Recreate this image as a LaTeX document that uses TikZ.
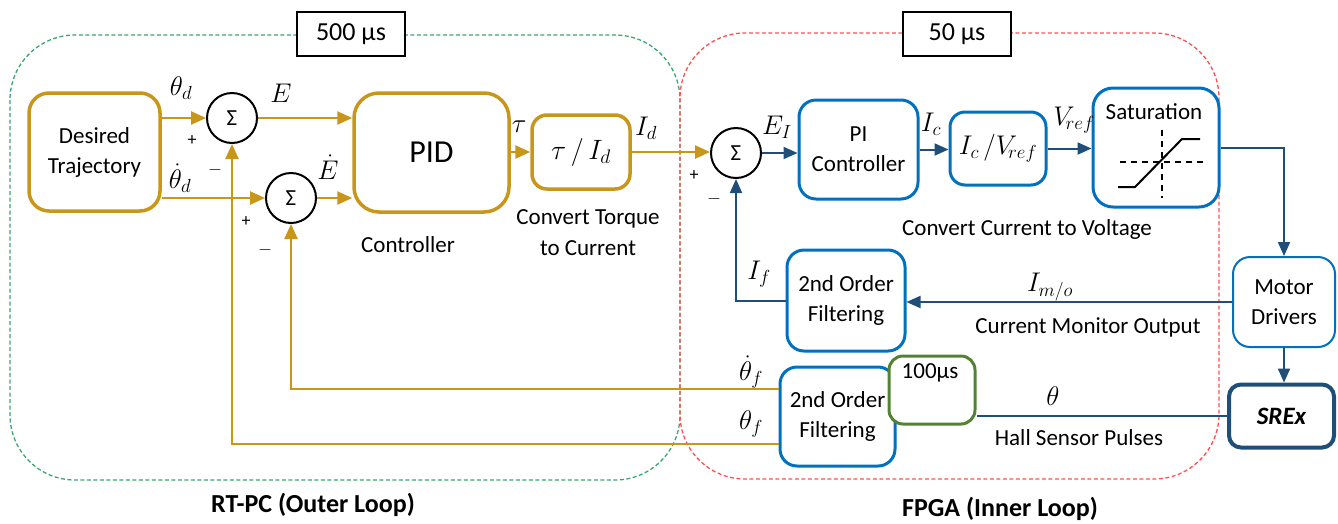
\RequirePackage{fix-cm}
\documentclass[tikz,border=0pt]{standalone}
\usepackage{fontspec}
\setmainfont{Carlito}
\usetikzlibrary{arrows.meta,calc}
\definecolor{gold}{RGB}{200,150,25}
\definecolor{boxblue}{RGB}{0,112,192}
\definecolor{arrowblue}{RGB}{31,78,121}
\definecolor{boxgreen}{RGB}{84,130,53}
\definecolor{dashgreen}{RGB}{60,165,115}
\definecolor{dashred}{RGB}{255,80,80}
\begin{document}
\begin{tikzpicture}[x=1pt,y=-1pt,
  font=\fontsize{23}{28}\selectfont,
  gbox/.style={draw=gold,line width=3.5pt,rounded corners=20pt,align=center,inner sep=0pt},
  bbox/.style={draw=boxblue,line width=3pt,rounded corners=17pt,align=center,inner sep=0pt},
  sumnode/.style={circle,draw=black,line width=2pt,minimum size=50pt,inner sep=0pt},
  garrow/.style={draw=gold,line width=2.5pt,-{Triangle[length=15pt,width=13pt]}},
  barrow/.style={draw=arrowblue,line width=2pt,-{Triangle[length=14pt,width=12pt]}},
  bline/.style={draw=arrowblue,line width=2pt},
  lbl/.style={inner sep=0pt},
  mlbl/.style={inner sep=0pt,font=\fontsize{27}{30}\selectfont},
  sgn/.style={inner sep=0pt,font=\fontsize{18}{20}\selectfont},
  region/.style={line width=1.3pt,dash pattern=on 4pt off 2.5pt,rounded corners=65pt},
  timebox/.style={draw=black,line width=2pt,fill=white,minimum width=108pt,minimum height=44pt,inner sep=0pt,font=\fontsize{26}{30}\selectfont},
]
\useasboundingbox (0,0) rectangle (1338,523);

% computing domains
\draw[region,draw=dashgreen] (10,35) rectangle (680,480);
\draw[region,draw=dashred] (680,33) rectangle (1219,479);
\node[timebox] (t500) at (351,34) {500 µs};
\node[timebox] (t50) at (957,34) {50 µs};

% outer loop blocks
\node[gbox,minimum width=131pt,minimum height=118pt] (dt) at (94.5,152) {Desired\\[2pt]Trajectory};
\node[sumnode] (s1) at (232,118) {Σ};
\node[sumnode] (s2) at (291,198) {Σ};
\node[gbox,rounded corners=25pt,minimum width=155pt,minimum height=119pt,font=\fontsize{32}{36}\selectfont] (pid) at (431.5,152.5) {PID};
\node[gbox,rounded corners=15pt,minimum width=98pt,minimum height=74pt,font=\fontsize{28}{32}\selectfont] (tau) at (581,152) {$\tau\,/\,I_d$};

% inner loop blocks
\node[sumnode] (s3) at (736,153) {Σ};
\node[bbox,minimum width=119pt,minimum height=99pt] (pi) at (858.5,149.5) {PI\\[2pt]Controller};
\node[bbox,rounded corners=15pt,minimum width=96pt,minimum height=73pt,font=\fontsize{27}{30}\selectfont] (icv) at (998,148.5) {$I_c\,/V_{\!ref}$};
\node[bbox,rounded corners=20pt,minimum width=126pt,minimum height=119pt] (sat) at (1156,147.5) {};
\node[lbl] (satlbl) at (1154,112) {Saturation};
\node[bbox,line width=2pt,minimum width=102pt,minimum height=90pt] (md) at (1284,302) {Motor\\[2pt]Drivers};
\node[draw=arrowblue,line width=4pt,rounded corners=12pt,minimum width=105pt,minimum height=63pt,inner sep=0pt,font=\fontsize{25}{30}\selectfont\bfseries\itshape] (srex) at (1281.5,416) {SREx};
\node[bbox,minimum width=118pt,minimum height=101pt] (f1) at (846,300.5) {2nd Order\\[2pt]Filtering};
\node[bbox,minimum width=115pt,minimum height=99pt] (f2) at (837.5,416.5) {2nd Order\\[2pt]Filtering};
\node[draw=boxgreen,fill=white,line width=3pt,rounded corners=14pt,minimum width=86pt,minimum height=68pt,inner sep=0pt] (t100) at (932,390) {};
\node[lbl] (t100lbl) at (930,373) {100µs};

% saturation characteristic
\draw[line width=1.5pt,dash pattern=on 6pt off 5pt] (1120,162) -- (1207,162);
\draw[line width=1.5pt,dash pattern=on 6pt off 5pt] (1162,130) -- (1162,198);
\draw[line width=2pt] (1118,187) -- (1135,187) -- (1182,139) -- (1200,139);

% outer loop signals
\draw[garrow] (dt.east |- s1) -- (s1.west);
\draw[garrow] (s1.east) -- (s1.east -| pid.west);
\draw[garrow] (dt.east |- s2) -- (s2.west);
\draw[garrow] (s2.east) -- (s2.east -| pid.west);
\draw[garrow] (pid.east |- tau) -- (tau.west);
\draw[garrow] (tau.east) -- (tau.east -| s3.west);

% inner loop signals
\draw[barrow] (s3.east) -- (s3.east -| pi.west);
\draw[barrow] (pi.east) -- (pi.east -| icv.west);
\draw[barrow] (icv.east) -- (icv.east -| sat.west);
\draw[barrow] (sat.east) -| (md.north);
\draw[barrow] (md.south) -- (md.south |- srex.north);
\draw[barrow] (md.west) -- (md.west -| f1.east);
\draw[barrow] (f1.west) -| (s3.south);
\draw[bline] (srex.west) -- (srex.west -| t100.east);

% feedback to the outer loop
\draw[garrow] ($(f2.north west)!0.23!(f2.south west)$) -| (s2.south);
\draw[garrow] ($(f2.north west)!0.77!(f2.south west)$) -| (s1.south);

% signal labels
\node[mlbl] (lthd) at (181,88) {$\theta_d$};
\node[mlbl] (ldthd) at (180,178) {$\dot\theta_d$};
\node[mlbl] (lE) at (281,93) {$E$};
\node[mlbl] (ldE) at (328,167) {$\dot E$};
\node[mlbl] (ltau) at (519,127) {$\tau$};
\node[mlbl] (lId) at (646,128) {$I_d$};
\node[mlbl] (lEI) at (777,127) {$E_I$};
\node[mlbl] (lIc) at (931,124) {$I_c$};
\node[mlbl] (lVref) at (1074,120) {$V_{\!ref}$};
\node[mlbl] (lIf) at (759,274) {$I_f$};
\node[mlbl] (lImo) at (1050,287) {$I_{m/o}$};
\node[mlbl] (ldthf) at (751,372) {$\dot\theta_f$};
\node[mlbl] (lthf) at (751,424) {$\theta_f$};
\node[mlbl] (lth) at (1053,396) {$\theta$};

% summing junction signs
\node[sgn] (p1) at (192,141) {+};
\node[sgn] (m1) at (215,170) {$-$};
\node[sgn] (p2) at (246,222) {+};
\node[sgn] (m2) at (265,250) {$-$};
\node[sgn] (p3) at (694,176) {+};
\node[sgn] (m3) at (714,199) {$-$};

% captions
\node[lbl] (cctrl) at (408,245) {Controller};
\node[lbl,align=center] (ctq) at (588,233) {Convert Torque\\[3pt]to Current};
\node[lbl] (ccv) at (1027,229) {Convert Current to Voltage};
\node[lbl] (ccmo) at (1088,327) {Current Monitor Output};
\node[lbl] (chall) at (1079,438) {Hall Sensor Pulses};
\node[lbl,font=\fontsize{26}{30}\selectfont\bfseries] (crt) at (313,505) {RT-PC (Outer Loop)};
\node[lbl,font=\fontsize{26}{30}\selectfont\bfseries] (cfpga) at (1000,509) {FPGA (Inner Loop)};
\end{tikzpicture}
\end{document}
